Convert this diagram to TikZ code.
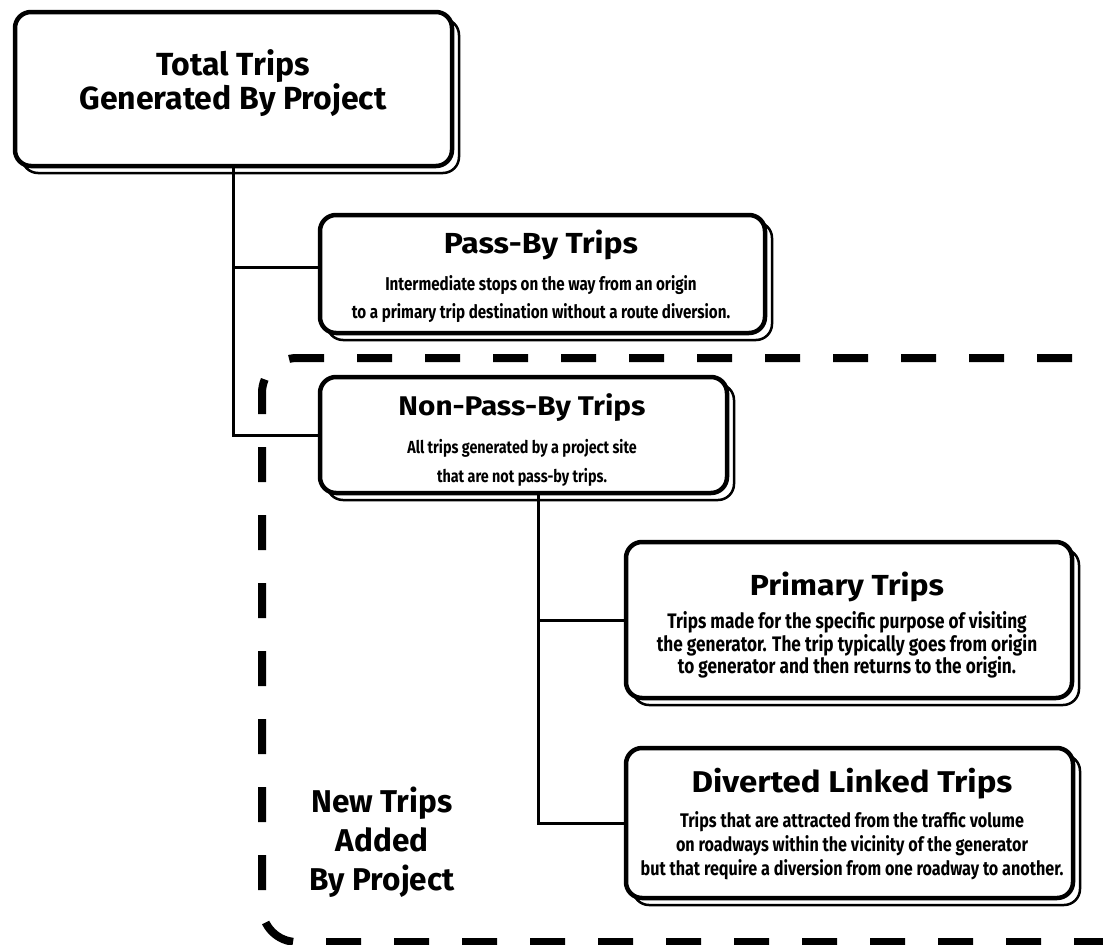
\documentclass[tikz,border=0pt]{standalone}
\usepackage{fontspec}
\setmainfont{Fira Sans}
\newfontfamily\descfont[FakeStretch=0.82]{Fira Sans}
\newfontfamily\headfont[FakeStretch=1.1]{Fira Sans}
\usetikzlibrary{shadows}
\begin{document}
\begin{tikzpicture}[x=1pt,y=-1pt,
  box/.style={draw, line width=4.5pt, rounded corners=16pt, fill=white, inner sep=0pt, outer sep=0pt,
    drop shadow={shadow xshift=7pt, shadow yshift=-7pt, fill=none, draw=black, line width=2.5pt, opacity=1}},
  bighead/.style={align=center, inner sep=0pt, font=\fontsize{32}{33}\selectfont\bfseries},
  head/.style={align=center, inner sep=0pt, font=\headfont\fontsize{29}{30}\selectfont\bfseries},
  desc/.style n args={2}{align=center, inner sep=0pt, font=\descfont\fontsize{#1}{#2}\selectfont\bfseries},
  conn/.style={line width=3pt},
  dashbox/.style={line width=8pt, dash pattern=on 35pt off 33pt, rounded corners=35pt}
]
\useasboundingbox (0,0) rectangle (1103,945);
\clip (0,0) rectangle (1103,945);
\fill[white] (0,0) rectangle (1103,945);

% dashed region
\draw[dashbox] (1140,358) -- (262,358) -- (262,942) -- (1140,942);

% boxes
\node[box, minimum width=437pt, minimum height=154pt] (total) at (233.5,89) {};
\node[box, minimum width=445pt, minimum height=118pt] (passby) at (542.5,274) {};
\node[box, minimum width=407pt, minimum height=116pt] (nonpass) at (523.5,435) {};
\node[box, minimum width=446pt, minimum height=156pt] (primary) at (849,620) {};
\node[box, minimum width=447pt, minimum height=150pt] (diverted) at (849.5,823) {};

% connectors
\draw[conn] (total.south) |- (nonpass.west);
\draw[conn] (total.south |- 0,267) -- (passby.west |- 0,267);
\draw[conn] ([xshift=15pt]nonpass.south) |- (primary.west);
\draw[conn] ([xshift=15pt]nonpass.south) |- (diverted.west);

% texts
\node[bighead] (ttotal) at (233,83.5) {Total Trips\\Generated By Project};
\node[head] (tpass) at (541,245) {Pass-By Trips};
\node[desc={18.5}{28}] (dpass) at (541,299) {Intermediate stops on the way from an origin\\to a primary trip destination without a route diversion.};
\node[head, font=\headfont\fontsize{27}{30}\selectfont\bfseries] (tnon) at (522,408) {Non-Pass-By Trips};
\node[desc={17.5}{29}] (dnon) at (522,462.5) {All trips generated by a project site\\that are not pass-by trips.};
\node[head] (tprim) at (847,587) {Primary Trips};
\node[desc={21}{22.5}] (dprim) at (847,645) {Trips made for the specific purpose of visiting\\the generator. The trip typically goes from origin\\to generator and then returns to the origin.};
\node[head, font=\headfont\fontsize{30}{30}\selectfont\bfseries] (tdiv) at (852,784) {Diverted Linked Trips};
\node[desc={19.7}{24}] (ddiv) at (852,846) {Trips that are attracted from the traffic volume\\on roadways within the vicinity of the generator\\but that require a diversion from one roadway to another.};
\node[bighead, font=\fontsize{31.5}{39}\selectfont\bfseries] (tnew) at (382,842) {New Trips\\Added\\By Project};
\end{tikzpicture}
\end{document}
